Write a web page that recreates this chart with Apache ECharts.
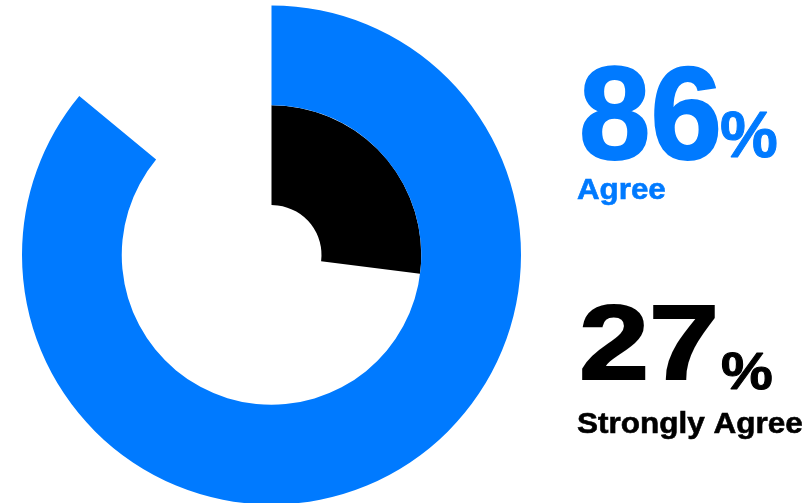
<!DOCTYPE html>
<html>
<head>
<meta charset="utf-8">
<script src="https://cdn.jsdelivr.net/npm/echarts@6/dist/echarts.min.js"></script>
<style>
  html, body { margin: 0; padding: 0; background: #fff; }
  #chart { width: 810px; height: 503px; }
</style>
</head>
<body>
<div id="chart"></div>
<script>
// Survey response shares, inner ring first
const categories = ['Strongly Agree', 'Agree'];
const values = [27, 86];
const colors = ['#000000', '#007AFF'];

const chart = echarts.init(document.getElementById('chart'), null, { renderer: 'canvas' });

const FONT = '"Liberation Sans", Arial, Helvetica, sans-serif';

// Helper for the big side labels; scaleX widens the glyphs from their left edge
function label(text, x, y, size, color, scaleX, weightStroke) {
  return {
    type: 'text',
    x: x,
    y: y,
    scaleX: scaleX || 1,
    originX: 0,
    originY: 0,
    silent: true,
    style: {
      text: text,
      font: 'bold ' + size + 'px ' + FONT,
      fill: color,
      stroke: weightStroke ? color : null,
      lineWidth: weightStroke || 0,
      verticalAlign: 'top'
    }
  };
}

chart.setOption({
  backgroundColor: '#ffffff',
  animation: false,
  polar: {
    center: [271.5, 255],
    radius: [50, 249.5]
  },
  angleAxis: {
    type: 'value',
    min: 0,
    max: 100,
    startAngle: 90,
    clockwise: true,
    show: false
  },
  radiusAxis: {
    type: 'category',
    data: categories,
    show: false
  },
  series: [{
    type: 'bar',
    coordinateSystem: 'polar',
    barCategoryGap: '0%',
    data: values.map((v, i) => ({ value: v, itemStyle: { color: colors[i] } })),
    silent: true
  }],
  graphic: [
    // Agree block
    label(String(values[1]), 579, 57, 131, colors[1], 0.98, 2),
    label('%', 720, 106.5, 65, colors[1], 1, 1),
    label(categories[1], 577, 176, 29, colors[1], 1.08, 0.6),
    // Strongly Agree block
    label(String(values[0]), 579, 298, 105, colors[0], 1.2, 2),
    label('%', 721, 348.5, 52, colors[0], 1.12, 1),
    label(categories[0], 577, 410, 30, colors[0], 1.05, 0.6)
  ]
});
</script>
</body>
</html>
